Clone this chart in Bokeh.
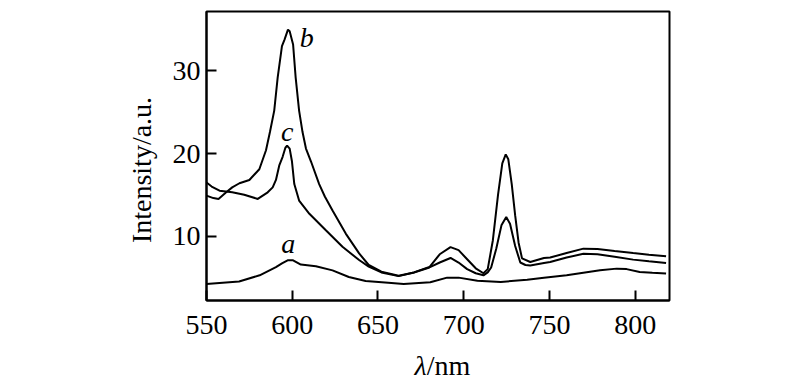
from bokeh.plotting import figure
from bokeh.models import FixedTicker, Range1d
from bokeh.layouts import column
from bokeh.core.properties import value
from bokeh.embed import file_html
from bokeh.resources import INLINE

# ---- data ----
wl_a = [550, 569, 581, 590.5, 594, 597.3, 600.5, 605, 613.8, 623.5, 633, 642.8, 656, 665, 680.5,
        690.3, 697, 708, 721.6, 737, 746.8, 760, 779.5, 789.2, 795, 802.6, 810, 818]
int_a = [4.2, 4.5, 5.25, 6.25, 6.7, 7.07, 7.07, 6.55, 6.35, 5.85, 5.05, 4.55, 4.35, 4.2, 4.4,
         4.97, 4.97, 4.6, 4.45, 4.7, 4.95, 5.25, 5.85, 6.06, 6.0, 5.65, 5.55, 5.46]

wl_b = [550, 554, 557, 561.5, 565, 569.2, 575, 580.8, 584.7, 587, 589.5, 591.5, 594, 595.5,
        597.5, 598.5, 600.5, 602, 604, 606, 608, 611, 615.7, 619, 623.5, 631.2, 639, 644.6,
        652, 662, 671, 680, 686, 692.3, 697, 702, 707, 711.5, 714, 717, 720, 722.5, 724.5,
        726, 728, 730, 732, 734, 738.8, 746.8, 750.4, 760, 769.8, 778, 788, 798.8, 808, 818]
int_b = [14.9, 14.6, 14.5, 15.3, 15.9, 16.4, 16.8, 18.1, 20.4, 22.6, 25.2, 29.2, 33.0, 33.8,
         35.0, 34.8, 33.2, 29.2, 25.2, 22.6, 20.6, 19.0, 16.3, 14.8, 13.1, 10.3, 7.9, 6.5,
         5.7, 5.2, 5.6, 6.25, 7.8, 8.67, 8.3, 7.2, 6.1, 5.5, 6.0, 9.5, 15.0, 18.8, 19.9,
         19.3, 16.3, 12.5, 9.2, 7.3, 6.86, 7.35, 7.4, 7.95, 8.48, 8.45, 8.2, 7.95, 7.75, 7.55]

wl_c = [550, 553, 557.6, 565, 572, 579.9, 585.7, 588.6, 590.5, 592.5, 594.4, 596, 597, 598.5,
        599.8, 601.2, 604, 610, 619.6, 629.3, 639, 644.6, 652, 662, 671, 680, 686, 692.3,
        697, 702, 707, 711.5, 714, 716, 719, 722, 724.8, 727, 730, 733, 736, 738.8, 746.8,
        750.4, 760, 769.8, 778, 788, 798.8, 808, 818]
int_c = [16.5, 16.0, 15.5, 15.3, 15.0, 14.5, 15.3, 15.9, 16.8, 18.6, 19.6, 20.7, 20.95, 20.6,
         19.1, 16.3, 14.3, 12.7, 10.7, 8.7, 7.1, 6.3, 5.6, 5.15, 5.6, 6.2, 6.8, 7.35,
         6.8, 6.0, 5.5, 5.25, 5.6, 6.2, 8.5, 11.3, 12.3, 11.5, 8.8, 6.8, 6.5, 6.45, 6.75,
         6.86, 7.4, 7.85, 7.8, 7.5, 7.15, 6.95, 6.74]

x_ticks = [550, 600, 650, 700, 750, 800]
y_ticks = [10, 20, 30]
curve_names = ["a", "b", "c"]
label_pos_x = [597.7, 608.5, 597]
label_pos_y = [9.1, 34.0, 22.7]
x_title_parts = ["λ", "/nm"]
y_title = "Intensity/a.u.\u00a0\u00a0\u00a0\u00a0"

FONT = "Liberation Serif"
W = 784

p = figure(width=W, height=342, output_backend="svg", toolbar_location=None,
           x_range=Range1d(550, 820), y_range=Range1d(2.2, 37.2),
           min_border_left=206, min_border_right=115, min_border_top=11, min_border_bottom=42)
p.grid.visible = False
p.background_fill_color = "white"
p.border_fill_color = "white"
p.outline_line_color = "black"
p.outline_line_width = 2

for ax in (p.xaxis[0], p.yaxis[0]):
    ax.axis_line_width = 2
    ax.major_tick_line_width = 2
    ax.major_tick_in = 10
    ax.major_tick_out = 0
    ax.minor_tick_line_color = None
    ax.major_label_text_font = FONT
    ax.major_label_text_font_size = "28px"
    ax.major_label_text_color = "black"
    ax.axis_label_text_font = FONT
    ax.axis_label_text_font_style = "normal"
    ax.axis_label_text_font_size = "28px"
    ax.axis_label_text_color = "black"

p.xaxis.ticker = FixedTicker(ticks=x_ticks)
p.yaxis.ticker = FixedTicker(ticks=y_ticks)
p.xaxis.major_label_standoff = 15
p.yaxis.major_label_standoff = 6
p.yaxis.axis_label = y_title
p.yaxis.axis_label_standoff = 13
p.xaxis.axis_label = None

p.line(wl_a, int_a, line_color="black", line_width=2)
p.line(wl_b, int_b, line_color="black", line_width=2)
p.line(wl_c, int_c, line_color="black", line_width=2)

p.text(x=label_pos_x, y=label_pos_y, text=curve_names, text_font=value(FONT),
       text_font_style="italic", text_font_size="28px", text_align="center",
       text_baseline="middle", text_color="black")

# x-axis title strip (italic lambda + upright unit), same horizontal frame as p
H2 = 35
p2 = figure(width=W, height=H2, output_backend="svg", toolbar_location=None,
            x_range=p.x_range, y_range=Range1d(0, H2),
            x_axis_location=None, y_axis_location=None,
            min_border_left=206, min_border_right=115,
            min_border_top=0, min_border_bottom=0)
p2.grid.visible = False
p2.outline_line_color = None
p2.background_fill_color = "white"
p2.border_fill_color = "white"
p2.text(x=[678.4], y=[12], text=[x_title_parts[0]], text_font=value(FONT),
        text_font_style="italic", text_font_size="28px", text_align="right",
        text_baseline="alphabetic", text_color="black")
p2.text(x=[678.4], y=[12], text=[x_title_parts[1]], text_font=value(FONT),
        text_font_style="normal", text_font_size="28px", text_align="left",
        text_baseline="alphabetic", text_color="black")

layout = column(p, p2, spacing=0)
open("out.html", "w").write(file_html(layout, INLINE))
